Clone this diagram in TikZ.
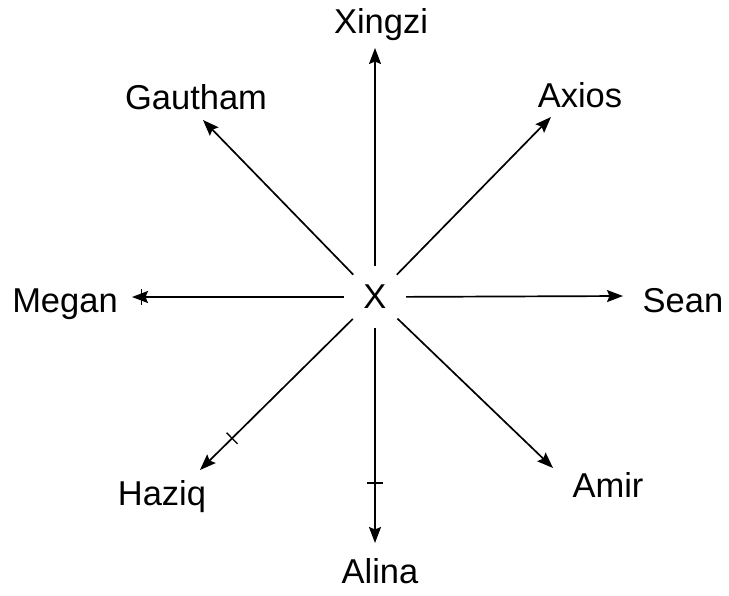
\documentclass[tikz,border=0pt]{standalone}
\usepackage{fontspec}
\setmainfont{Liberation Sans}
\usetikzlibrary{arrows.meta}
\begin{document}
\begin{tikzpicture}[x=1pt,y=-1pt,
  lbl/.style={anchor=base, inner sep=0pt, font=\fontsize{34.5}{40}\selectfont},
  arr/.style={line width=1.7pt, -{Stealth[length=16pt,width=12pt,inset=2.5pt]}},
  tickmark/.style={sloped, inner sep=0pt, minimum width=0pt, minimum height=14pt},
  hub/.style={circle, inner sep=0pt, minimum size=62pt, font=\fontsize{34.5}{40}\selectfont}]
\useasboundingbox[fill=white] (0,0) rectangle (729,595);
% labels
\node[lbl] (xingzi) at (381,33) {Xingzi};
\node[lbl] (gautham) at (196,109) {Gautham};
\node[lbl] (axios) at (580,107) {Axios};
\node[lbl] (megan) at (65,312) {Megan};
\node[lbl] (sean) at (683,312) {Sean};
\node[lbl] (haziq) at (162,505) {Haziq};
\node[lbl] (alina) at (380,583) {Alina};
\node[lbl] (amir) at (608,497) {Amir};
\node[hub] (x) at (375,297) {X};
% arrow tips
\coordinate (tX) at (375,48);
\coordinate (tG) at (203,120);
\coordinate (tA) at (551,117);
\coordinate (tM) at (132,297);
\coordinate (tS) at (623,296);
\coordinate (tH) at (200,470);
\coordinate (tL) at (375,543);
\coordinate (tR) at (553,468);
% connectors
\draw[arr] (x) -- (tX);
\draw[arr] (x) -- (tG);
\draw[arr] (x) -- (tA);
\draw[arr] (x) -- node[tickmark, pos=0.955] (k1) {} (tM);
\draw[arr] (x) -- (tS);
\draw[arr] (x) -- node[tickmark, pos=0.79] (k2) {} (tH);
\draw[arr] (x) -- node[tickmark, pos=0.72] (k3) {} (tL);
\draw[arr] (x) -- (tR);
% small tick marks on the lines
\draw[line width=1.3pt] (k1.north) -- (k1.south);
\draw[line width=1.3pt] (k2.north) -- (k2.south);
\draw[line width=1.3pt] (k3.north) -- (k3.south);
\end{tikzpicture}
\end{document}
